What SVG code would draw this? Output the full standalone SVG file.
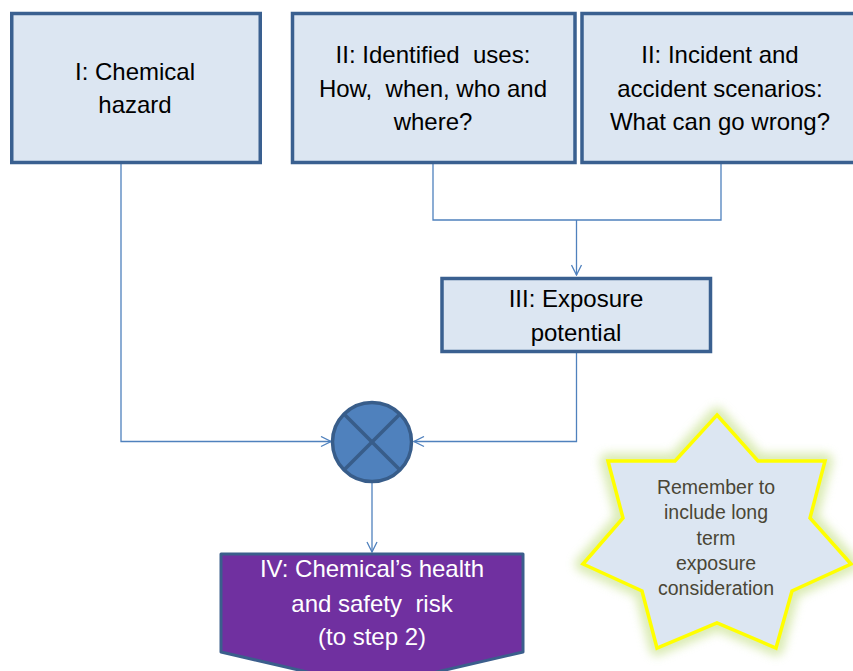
<svg xmlns="http://www.w3.org/2000/svg" width="853" height="671" viewBox="0 0 853 671">
  <style>
    .box { fill: #dce6f2; stroke: #3a6090; stroke-width: 3.5; }
    text { white-space: pre; }
    .lbl { font-family: "Liberation Sans", Arial, sans-serif; font-size: 24px; fill: #000; text-anchor: middle; }
    .lbl-w { font-family: "Liberation Sans", Arial, sans-serif; font-size: 24px; fill: #fff; text-anchor: middle; }
    .note { font-family: "Liberation Sans", Arial, sans-serif; font-size: 19.5px; fill: #4a4636; text-anchor: middle; }
    .conn { fill: none; stroke: #4f81bd; stroke-width: 1.3; }
  </style>
  <defs>
    <marker id="open-arrow" viewBox="0 0 12 12" refX="11" refY="6" markerWidth="12" markerHeight="12" markerUnits="userSpaceOnUse" orient="auto">
      <path d="M1,1 L11,6 L1,11" fill="none" stroke="#4f81bd" stroke-width="1.3"/>
    </marker>
    <filter id="glow" x="-20%" y="-20%" width="140%" height="140%">
      <feGaussianBlur stdDeviation="5"/>
    </filter>
  </defs>

  <rect width="853" height="671" fill="#fff"/>

  <!-- connectors -->
  <g id="connectors">
    <polyline class="conn" points="121,164 121,441.5 331,441.5" marker-end="url(#open-arrow)"/>
    <polyline class="conn" points="433,164 433,220 721,220 721,164"/>
    <line class="conn" x1="576.5" y1="220" x2="576.5" y2="275" marker-end="url(#open-arrow)"/>
    <polyline class="conn" points="576.5,353 576.5,441.5 414,441.5" marker-end="url(#open-arrow)"/>
    <line class="conn" x1="372" y1="482" x2="372" y2="552" marker-end="url(#open-arrow)"/>
  </g>

  <!-- I: chemical hazard -->
  <g id="node-hazard">
    <rect class="box" x="11.75" y="13.5" width="248.5" height="149"/>
    <text class="lbl" x="135" y="80">I: Chemical</text>
    <text class="lbl" x="135" y="113">hazard</text>
  </g>

  <!-- II: identified uses -->
  <g id="node-uses">
    <rect class="box" x="292.5" y="13.5" width="282.5" height="149"/>
    <text class="lbl" x="433" y="63">II: Identified  uses:</text>
    <text class="lbl" x="433" y="97">How,  when, who and</text>
    <text class="lbl" x="433" y="130">where?</text>
  </g>

  <!-- II: incident and accident scenarios -->
  <g id="node-incidents">
    <rect class="box" x="582" y="13.5" width="290" height="149"/>
    <text class="lbl" x="720" y="63">II: Incident and</text>
    <text class="lbl" x="720" y="97">accident scenarios:</text>
    <text class="lbl" x="720" y="130">What can go wrong?</text>
  </g>

  <!-- III: exposure potential -->
  <g id="node-exposure">
    <rect class="box" x="442" y="278.5" width="268.5" height="73"/>
    <text class="lbl" x="576" y="307">III: Exposure</text>
    <text class="lbl" x="576" y="341">potential</text>
  </g>

  <!-- combining junction -->
  <g id="node-junction">
    <circle cx="372" cy="442" r="39.5" fill="#4f81bd" stroke="#385d8a" stroke-width="3.5"/>
    <line x1="344" y1="414" x2="400" y2="470" stroke="#385d8a" stroke-width="3.5"/>
    <line x1="400" y1="414" x2="344" y2="470" stroke="#385d8a" stroke-width="3.5"/>
  </g>

  <!-- IV: health and safety risk -->
  <g id="node-risk">
    <polygon points="221,554 523,554 523,652 372,687 221,652" fill="#7030a0" stroke="#3b5e8c" stroke-width="3" stroke-linejoin="round"/>
    <text class="lbl-w" x="372" y="577">IV: Chemical’s health</text>
    <text class="lbl-w" x="372" y="612">and safety  risk</text>
    <text class="lbl-w" x="372" y="645">(to step 2)</text>
  </g>

  <!-- reminder star -->
  <g id="node-reminder">
    <polygon points="717,415 758,461 825,461 810,518 851,564 792,591 776,648 717,623 657,648 642,591 583,564 623,518 608,461 675,461"
             fill="none" stroke="#cfe59c" stroke-width="16" stroke-linejoin="round" opacity="0.75" filter="url(#glow)"/>
    <polygon points="717,415 758,461 825,461 810,518 851,564 792,591 776,648 717,623 657,648 642,591 583,564 623,518 608,461 675,461"
             fill="#dce6f2" stroke="#ffff00" stroke-width="3.5"/>
    <text class="note" x="716" y="494">Remember to</text>
    <text class="note" x="716" y="519">include long</text>
    <text class="note" x="716" y="545">term</text>
    <text class="note" x="716" y="570">exposure</text>
    <text class="note" x="716" y="595">consideration</text>
  </g>
</svg>
